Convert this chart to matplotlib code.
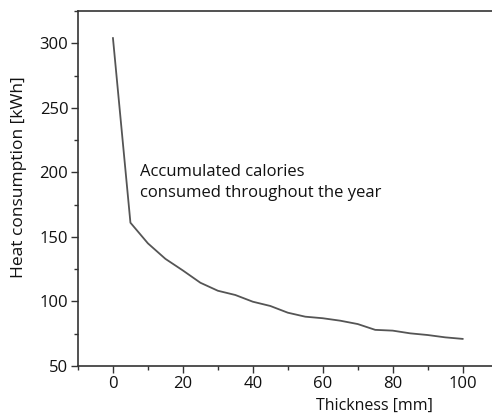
import matplotlib
matplotlib.use('Agg')
import matplotlib.pyplot as plt
from matplotlib.ticker import MultipleLocator

#values
thickness = [0, 5, 10, 15, 20, 25, 30, 35, 40, 45, 50, 55, 60, 65, 70, 75, 80, 85, 90, 95, 100]
heat = [304, 161, 145, 133, 124, 114.5, 108.3, 105, 99.8, 96.5, 91.3, 88.2, 87, 85.1, 82.5,
        78, 77.4, 75.3, 74, 72.2, 71]
xLabel = 'Thickness [mm]'
yLabel = 'Heat consumption [kWh]'
note = 'Accumulated calories\nconsumed throughout the year'

plt.rcParams['font.family'] = ['Open Sans', 'DejaVu Sans']
axColor = '#333333'

fig = plt.figure(figsize=(4.92, 4.18), dpi=100)
ax = fig.add_axes([0.1585, 0.1244, 0.8415, 0.8493])
ax.plot(thickness, heat, color='#555555', lw=1.3)

ax.set_xlim(-10, 108.4)
ax.set_ylim(50, 325)
ax.xaxis.set_major_locator(MultipleLocator(20))
ax.xaxis.set_minor_locator(MultipleLocator(10))
ax.yaxis.set_major_locator(MultipleLocator(50))
ax.yaxis.set_minor_locator(MultipleLocator(25))

for s in ['left', 'top', 'bottom']:
    ax.spines[s].set_color(axColor)
    ax.spines[s].set_linewidth(1.2)
ax.spines['right'].set_visible(False)
ax.tick_params(which='major', direction='out', length=5, width=1, color=axColor,
               labelsize=12, labelcolor='#111111', pad=2)
ax.tick_params(which='minor', direction='out', length=3, width=1, color=axColor)

ax.set_xlabel(xLabel, fontsize=11.5, color='#111111')
ax.xaxis.set_label_coords(0.717, -0.09)
ax.set_ylabel(yLabel, fontsize=12.5, color='#111111')
ax.yaxis.set_label_coords(-0.124, 0.531)

ax.text(7.6, 192, note, fontsize=12, color='#111111', va='center', ha='left', linespacing=1.45)

fig.savefig('out.png', dpi=100)
